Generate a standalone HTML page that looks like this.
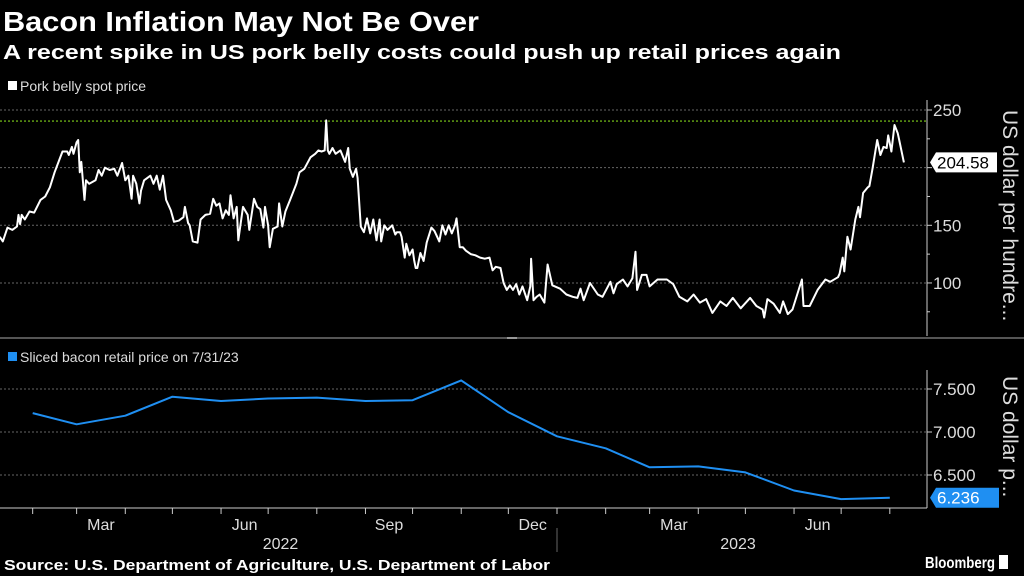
<!DOCTYPE html>
<html><head><meta charset="utf-8">
<style>
html,body{margin:0;padding:0;background:#000;}
body{width:1024px;height:576px;overflow:hidden;position:relative;font-family:"Liberation Sans","DejaVu Sans",sans-serif;}
svg{position:absolute;left:0;top:0;}
</style></head>
<body>
<svg id="chart" width="1024" height="576" viewBox="0 0 1024 576">
  <text x="3" y="31" fill="#fff" font-size="28" font-weight="bold" textLength="476" lengthAdjust="spacingAndGlyphs">Bacon Inflation May Not Be Over</text>
  <text x="3" y="59" fill="#fff" font-size="20" font-weight="bold" textLength="838" lengthAdjust="spacingAndGlyphs">A recent spike in US pork belly costs could push up retail prices again</text>
  <rect x="8" y="81" width="9" height="9" fill="#fff"/>
  <text x="20" y="91" fill="#ddd" font-size="14">Pork belly spot price</text>
  <rect x="8" y="352" width="9" height="9" fill="#1f8ff2"/>
  <text x="20" y="362" fill="#ddd" font-size="14">Sliced bacon retail price on 7/31/23</text>
  <line x1="0" y1="338" x2="1024" y2="338" stroke="#555" stroke-width="2"/>
  <line x1="507" y1="338" x2="517" y2="338" stroke="#999" stroke-width="2"/>
  <g id="topPanel"></g>
  <g id="botPanel"></g>
  <g id="xaxisGroup"></g>
  <text x="4" y="570" fill="#fff" font-size="15" font-weight="bold" textLength="546" lengthAdjust="spacingAndGlyphs">Source: U.S. Department of Agriculture, U.S. Department of Labor</text>
  <text x="925" y="568" fill="#fff" font-size="16" font-weight="bold" textLength="70" lengthAdjust="spacingAndGlyphs">Bloomberg</text>
  <rect x="999" y="555" width="9" height="14" fill="#fff"/>
</svg>
<script>
// days since 2022-01-01
const porkDays=[10,12,15,18,21,22,23,24,26,29,32,36,39,42,45,48,50,53,54,56,57,59,60,61,62,64,65,67,71,73,75,77,80,83,85,88,90,92,94,95,97,99,100,102,106,108,110,112,114,116,119,121,124,127,128,130,131,133,136,138,141,144,146,148,150,152,154,156,157,159,161,162,165,168,169,172,174,176,178,179,181,182,184,187,188,190,192,195,199,201,204,208,211,213,215,217,218,219,220,222,224,227,230,232,233,235,237,238,240,242,244,246,248,250,252,253,255,257,260,262,263,265,266,268,269,271,273,274,275,276,278,280,282,285,287,290,292,294,296,298,300,301,303,305,307,310,313,316,319,322,324,326,329,331,333,335,337,339,341,343,346,348,348.5,350,352,354,357,359,362,367,371,375,378,380,382,386,391,394,399,401,403,407,410,413,415,416,419,422,424,429,435,439,443,448,452,456,460,464,469,473,477,482,488,492,496,497,499,503,507,509,512,515,521,522,526,531,536,539,544,545,547,548,550,552,555,557,558,560,563,564,566,569,571,573,575,576,578,580,582,583,586];
const porkValues=[140,136,148,146,149,159,151,159,155,162,161,172,175,183,196,207,214,214,211,218,212,222,224,196,205,172,189,186,189,198,193,200,198,199,193,204,189,193,173,193,186,169,180,189,193,186,193,181,193,172,163,153,154,157,166,152,150,136,135,155,159,160,173,167,169,156,163,159,176,156,166,137,166,159,146,173,166,164,148,166,150,131,147,149,169,149,162,172,186,196,199,209,212,215,214,215,241,215,212,217,212,215,205,217,199,192,199,191,149,144,156,143,155,137,155,136,150,146,150,142,144,144,140,122,134,124,129,120,113,113,126,119,135,148,145,136,150,142,150,143,150,156,131,131,128,125,124,122,121,122,111,114,113,100,94,98,94,99,90,97,85,97,121,85,88,90,83,116,98,95,90,88,87,95,85,100,90,88,101,91,99,103,97,104,127,94,107,107,97,103,103,99,88,84,90,83,86,74,84,80,87,78,87,80,77,70,86,82,74,84,73,77,103,80,80,94,103,101,105,108,122,110,140,129,155,166,157,178,183,184,199,224,211,218,217,228,214,237,230,224,204.58];
const porkTicks=[100,150,200,250];
const porkTickLabels=["100","150","","250"];
const porkMax=240.4;
const baconDays=[31,59,90,120,151,181,212,243,273,304,334,365,396,424,455,485,516,546,577];
const baconValues=[7.22,7.09,7.19,7.41,7.36,7.39,7.40,7.36,7.37,7.60,7.23,6.95,6.81,6.59,6.60,6.53,6.32,6.22,6.236];
const baconTicks=[6.5,7.0,7.5];
const baconTickLabels=["6.500","7.000","7.500"];
const monthStarts=[31,59,90,120,151,181,212,243,273,304,334,365,396,424,455,485,516,546,577,608];
const monthLabels=["","Mar","","","Jun","","","Sep","","","Dec","","","Mar","","","Jun","","",""];
const yearLabels=["2022","2023"];

const NS="http://www.w3.org/2000/svg";
function mk(parent,tag,attrs){const e=document.createElementNS(NS,tag);for(const k in attrs)e.setAttribute(k,attrs[k]);parent.appendChild(e);return e;}
const xDay=d=>d/0.637-16;
const yPork=v=>110+(250-v)*1.153;
const yBacon=v=>389+(7.5-v)*86;
const AX=927;
const tp=document.getElementById('topPanel'),bp=document.getElementById('botPanel'),xa=document.getElementById('xaxisGroup');

porkTicks.forEach((t,i)=>{
  const g=mk(tp,'line',{x1:0,x2:AX,y1:yPork(t),y2:yPork(t),stroke:'#666','stroke-dasharray':'2,2','stroke-width':1});
  
  
  const tk=mk(tp,'line',{x1:AX,x2:AX+5,y1:yPork(t),y2:yPork(t),stroke:'#ccc'});
  
  
  if(porkTickLabels[i]){
    const l=mk(tp,'text',{x:AX+6,y:yPork(t)+6,fill:'#ddd','font-size':17});
    l.textContent=porkTickLabels[i];
    
    
  }
});
[75,125,175,225].forEach(t=>{
  const tk=mk(tp,'line',{x1:AX,x2:AX+3,y1:yPork(t),y2:yPork(t),stroke:'#ccc'});
  
  
});
const pax=mk(tp,'line',{x1:AX,x2:AX,y1:100,y2:336,stroke:'#ccc'});


const gl=mk(tp,'line',{x1:0,x2:AX,y1:yPork(porkMax),y2:yPork(porkMax),stroke:'#7fd11b','stroke-dasharray':'2,2','stroke-width':1.2});


const pl=mk(tp,'polyline',{points:porkDays.map((d,i)=>xDay(d).toFixed(1)+','+yPork(porkValues[i]).toFixed(1)).join(' '),fill:'none',stroke:'#fff','stroke-width':2,'stroke-linejoin':'round'});


const lastP=porkValues[porkValues.length-1],lyP=yPork(lastP);
const pb=mk(tp,'path',{d:`M${AX+3},${lyP} L${AX+9},${lyP-10} H${AX+70} V${lyP+10} H${AX+9} Z`,fill:'#fff'});


const pt=mk(tp,'text',{x:AX+10,y:lyP+6,fill:'#000','font-size':17});
pt.textContent=lastP.toFixed(2);


const ptitle=mk(tp,'text',{x:1003,y:110,fill:'#ddd','font-size':21,transform:'rotate(90 1003 110)'});
ptitle.textContent='US dollar per hundre...';



baconTicks.forEach((t,i)=>{
  const g=mk(bp,'line',{x1:0,x2:AX,y1:yBacon(t),y2:yBacon(t),stroke:'#666','stroke-dasharray':'2,2','stroke-width':1});
  
  
  const tk=mk(bp,'line',{x1:AX,x2:AX+5,y1:yBacon(t),y2:yBacon(t),stroke:'#ccc'});
  
  
  const l=mk(bp,'text',{x:AX+6,y:yBacon(t)+6,fill:'#ddd','font-size':17});
  l.textContent=baconTickLabels[i];
  
  
});
const bax=mk(bp,'line',{x1:AX,x2:AX,y1:370,y2:508,stroke:'#ccc'});


const bl=mk(bp,'polyline',{points:baconDays.map((d,i)=>xDay(d).toFixed(1)+','+yBacon(baconValues[i]).toFixed(1)).join(' '),fill:'none',stroke:'#1f8ff2','stroke-width':2,'stroke-linejoin':'round'});


const lastB=baconValues[baconValues.length-1],lyB=yBacon(lastB);
const bb=mk(bp,'path',{d:`M${AX+3},${lyB} L${AX+9},${lyB-10} H${AX+72} V${lyB+10} H${AX+9} Z`,fill:'#1f8ff2'});


const bt=mk(bp,'text',{x:AX+10,y:lyB+6,fill:'#fff','font-size':17});
bt.textContent=lastB.toFixed(3);


const btitle=mk(bp,'text',{x:1003,y:376,fill:'#ddd','font-size':21,transform:'rotate(90 1003 376)'});
btitle.textContent='US dollar p...';



const xl=mk(xa,'line',{x1:0,x2:AX,y1:508,y2:508,stroke:'#ccc'});


monthStarts.forEach((d,i)=>{
  const x=xDay(d);
  if(x<AX){
    const tk=mk(xa,'line',{x1:x,x2:x,y1:508,y2:514,stroke:'#ccc'});
    
    
  }
  if(monthLabels[i]&&i+1<monthStarts.length){
    const cx=(x+xDay(monthStarts[i+1]))/2;
    const l=mk(xa,'text',{x:cx,y:530,fill:'#ddd','font-size':16,'text-anchor':'middle'});
    l.textContent=monthLabels[i];
    
    
  }
});
const yDiv=xDay(365);
const dv=mk(xa,'line',{x1:yDiv,x2:yDiv,y1:528,y2:552,stroke:'#666'});


[[(0+yDiv)/2+2,yearLabels[0]],[(yDiv+AX)/2-4,yearLabels[1]]].forEach(([x,t])=>{
  const l=mk(xa,'text',{x:x,y:549,fill:'#ddd','font-size':16,'text-anchor':'middle'});
  l.textContent=t;
  
  
});
</script>
</body></html>
